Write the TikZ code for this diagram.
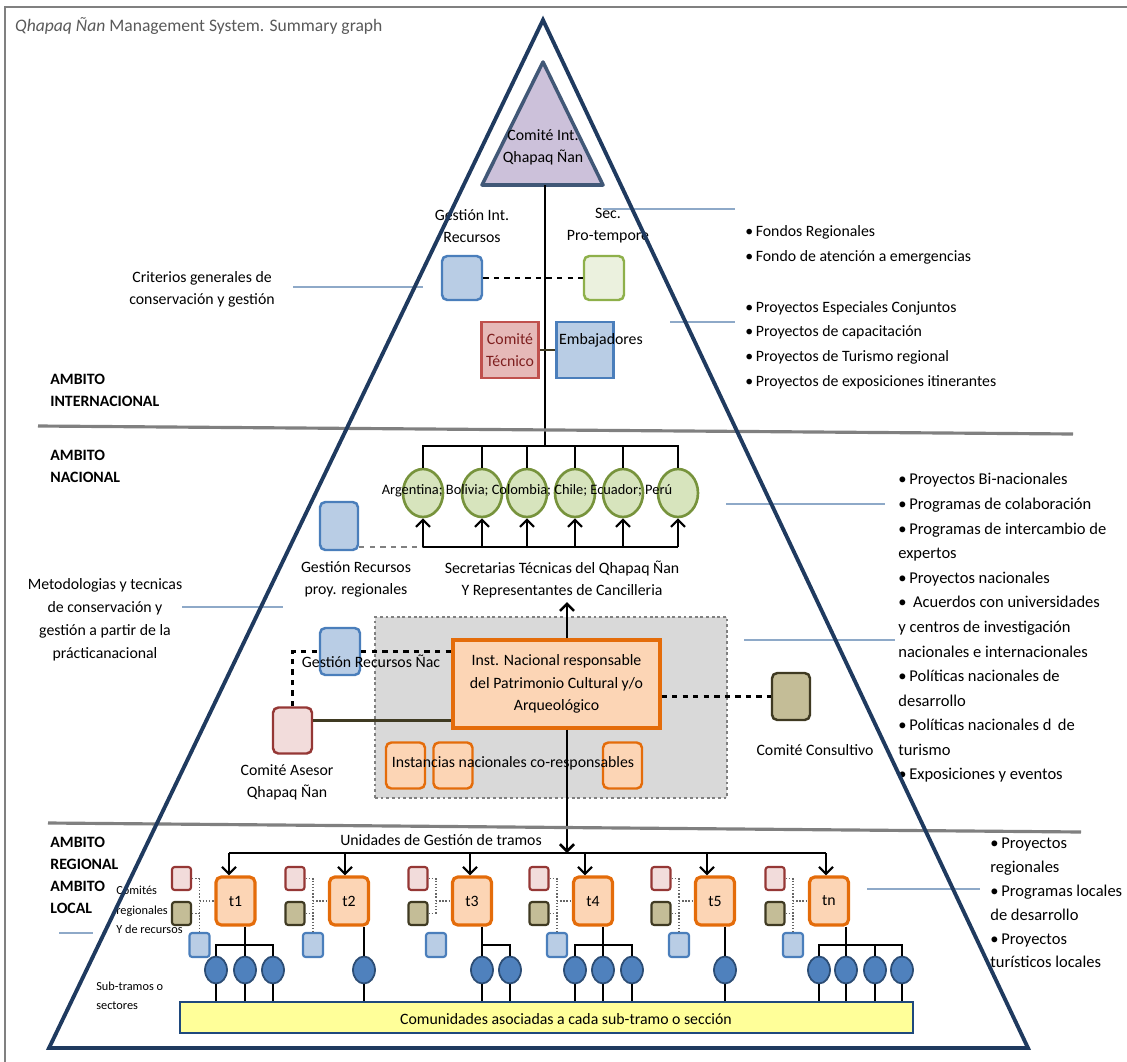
\documentclass[tikz,border=0pt]{standalone}
\usepackage{fontspec}
\setmainfont{Carlito}
\usetikzlibrary{arrows.meta,shapes.geometric}
\definecolor{marino}{HTML}{1F3A5F}
\definecolor{lila}{HTML}{CCC1DA}
\definecolor{azulf}{HTML}{B9CDE5}
\definecolor{azulb}{HTML}{4A7EBB}
\definecolor{verdef}{HTML}{EBF1DE}
\definecolor{verdeb}{HTML}{8EB04A}
\definecolor{circf}{HTML}{D7E4BD}
\definecolor{circb}{HTML}{77933C}
\definecolor{rosaf}{HTML}{E6B9B8}
\definecolor{rosab}{HTML}{C0504D}
\definecolor{rojot}{HTML}{7F1F1F}
\definecolor{asesf}{HTML}{F2DCDB}
\definecolor{asesb}{HTML}{953735}
\definecolor{olivf}{HTML}{C4BD97}
\definecolor{olivb}{HTML}{3F3A22}
\definecolor{naranf}{HTML}{FCD5B5}
\definecolor{naranb}{HTML}{E46C0A}
\definecolor{grisf}{HTML}{D9D9D9}
\definecolor{grisl}{HTML}{808080}
\definecolor{azull}{HTML}{8EA9C8}
\definecolor{subf}{HTML}{4F81BD}
\definecolor{subb}{HTML}{2C4D75}
\definecolor{amarf}{HTML}{FFFF99}
\definecolor{amarb}{HTML}{1F497D}
\definecolor{titulo}{HTML}{595959}
\begin{document}
\begin{tikzpicture}[x=0.02cm, y=-0.02cm,
  texto/.style={font=\fontsize{9}{12.5}\selectfont, align=center, text=black, inner sep=1pt},
  lista/.style={font=\fontsize{9}{14}\selectfont, align=left, anchor=west, text=black, inner sep=0pt},
  ambito/.style={font=\fontsize{9}{12.5}\selectfont\bfseries, align=left, anchor=west, text=black, inner sep=0pt},
  chico/.style={font=\fontsize{7}{11}\selectfont, align=left, anchor=west, text=black, inner sep=0pt},
  caja/.style={rounded corners=3pt, line width=1.4pt, minimum width=0.78cm, minimum height=0.92cm, inner sep=0pt},
  cajaazul/.style={caja, draw=azulb, fill=azulf},
  cajaverde/.style={caja, draw=verdeb, fill=verdef},
  cajaases/.style={caja, draw=asesb, fill=asesf},
  cajacons/.style={caja, draw=olivb, fill=olivf},
  cajanar/.style={caja, draw=naranb, fill=naranf},
  cajat/.style={cajanar, line width=1.8pt, minimum height=0.96cm, font=\fontsize{9}{11}\selectfont},
  cajarect/.style={sharp corners, line width=1.5pt, minimum width=1.14cm, minimum height=1.12cm, inner sep=0pt, align=center, font=\fontsize{9}{12.5}\selectfont},
  mini/.style={rounded corners=1.5pt, line width=1.2pt, minimum width=0.38cm, minimum height=0.46cm, inner sep=0pt},
  minirosa/.style={mini, draw=asesb, fill=asesf},
  minioliva/.style={mini, draw=olivb, fill=olivf},
  miniazul/.style={mini, draw=azulb, fill=azulf, minimum width=0.4cm, minimum height=0.48cm},
  pais/.style={ellipse, draw=circb, fill=circf, line width=1.5pt, minimum width=0.8cm, minimum height=0.96cm, inner sep=0pt},
  sub/.style={ellipse, draw=subb, fill=subf, line width=1pt, minimum width=0.44cm, minimum height=0.54cm, inner sep=0pt},
  llamada/.style={draw=azull, line width=1pt},
  division/.style={draw=grisl, line width=1.8pt},
  conector/.style={line width=1.2pt},
  flecha/.style={conector, -{Straight Barb[length=4pt,width=8pt]}},
  punteo/.style={densely dotted, line width=0.8pt, black!60},
  guion/.style={dashed, line width=1.2pt}]
\useasboundingbox (0,0) rectangle (1127,1062);
\draw[grisl, line width=0.8pt] (5,1062) -- (5,7) -- (1127,7);
\node[anchor=west, text=titulo, font=\fontsize{10}{12}\selectfont] (titulo) at (9,26) {\textit{Qhapaq Ñan} Management System. Summary graph};

\filldraw[fill=lila, draw=marino!85, line width=2pt, line join=round] (543,62) -- (603,185) -- (482,185) -- cycle;
\node[texto] (cint) at (543,147) {Comité Int.\\Qhapaq Ñan};
\coordinate (cintb) at (545,185);
\coordinate (barN) at (545,446);
\draw[conector] (cintb) -- (barN);

\node[texto] (girt) at (472,226) {Gestión Int.\\Recursos};
\node[texto] (sptt) at (608,226) {Sec.\\Pro-tempore};
\node[cajaazul, minimum width=0.8cm, minimum height=0.88cm] (gir) at (462,278) {};
\node[cajaverde, minimum width=0.8cm, minimum height=0.88cm] (spt) at (604,278) {};
\draw[guion] (gir) -- (spt);
\node[cajarect, draw=rosab, fill=rosaf, text=rojot] (ct) at (510,350) {Comité\\Técnico};
\node[cajarect, draw=azulb, fill=azulf] (emb) at (585,350) {};
\node[texto] (embt) at (601,340) {Embajadores};
\draw[line width=1pt, olivb] (ct) -- (emb);

\node[texto] (crit) at (202,289) {Criterios generales de\\conservación y gestión};
\coordinate (lC1) at (293,287);
\coordinate (lC2) at (423,287);
\draw[llamada] (lC1) -- (lC2);
\node[lista] (fondos) at (745,245) {•\,Fondos Regionales\\•\,Fondo de atención a emergencias};
\node[lista] (proy) at (745,345) {•\,Proyectos Especiales Conjuntos\\•\,Proyectos de capacitación\\•\,Proyectos de Turismo regional\\•\,Proyectos de exposiciones itinerantes};
\coordinate (lA1) at (603,209);
\coordinate (lA2) at (735,209);
\draw[llamada] (lA1) -- (lA2);
\coordinate (lB1) at (670,322);
\coordinate (lB2) at (735,322);
\draw[llamada] (lB1) -- (lB2);

\node[ambito] (amint) at (50,390) {AMBITO\\INTERNACIONAL};
\draw[division] (38,426) -- (1073,434);
\node[ambito] (amnac) at (50,466) {AMBITO\\NACIONAL};

\node[pais] (arg) at (423,493) {};
\node[pais] (bol) at (482,493) {};
\node[pais] (col) at (527,493) {};
\node[pais] (chi) at (575,493) {};
\node[pais] (ecu) at (623,493) {};
\node[pais] (per) at (678,493) {};
\node[texto, font=\fontsize{8.2}{10}\selectfont] (paises) at (527,491) {Argentina; Bolivia; Colombia; Chile; Ecuador; Perú};
\draw[conector] (arg.north) |- (barN) -| (per.north);
\draw[conector] (bol.north) -- (bol.north |- barN);
\draw[conector] (col.north) -- (col.north |- barN);
\draw[conector] (chi.north) -- (chi.north |- barN);
\draw[conector] (ecu.north) -- (ecu.north |- barN);
\coordinate (barS) at (545,547);
\node[cajaazul, minimum width=0.76cm, minimum height=0.96cm] (grp) at (339,526) {};
\draw[grisl, dashed, line width=1.5pt] (grp.east |- barS) -- (arg |- barS);
\draw[conector] (arg |- barS) -- (per |- barS);
\draw[flecha] (arg |- barS) -- (arg.south);
\draw[flecha] (bol |- barS) -- (bol.south);
\draw[flecha] (col |- barS) -- (col.south);
\draw[flecha] (chi |- barS) -- (chi.south);
\draw[flecha] (ecu |- barS) -- (ecu.south);
\draw[flecha] (per |- barS) -- (per.south);
\node[texto] (grpt) at (356,579) {Gestión Recursos\\proy. regionales};
\node[texto] (sect) at (562,579) {Secretarias Técnicas del Qhapaq Ñan\\Y Representantes de Cancilleria};

\node[texto, font=\fontsize{9}{13}\selectfont] (metod) at (105,620) {Metodologias y tecnicas\\de conservación y\\gestión a partir de la\\prácticanacional};
\coordinate (lM1) at (182,607);
\coordinate (lM2) at (283,607);
\draw[llamada] (lM1) -- (lM2);

\node[fill=grisf, draw=grisl, line width=1.6pt, dash pattern=on 1.6pt off 1.6pt, minimum width=7.04cm, minimum height=3.62cm] (reg) at (551,707.5) {};
\node[sharp corners, draw=naranb, fill=naranf, line width=1.8pt, minimum width=4.14cm, minimum height=1.76cm, texto, font=\fontsize{9}{12.8}\selectfont] (inst) at (556.5,684) {Inst. Nacional responsable\\del Patrimonio Cultural y/o\\Arqueológico};
\node[cajanar] (ins1) at (405.5,765.5) {};
\node[cajanar] (ins2) at (453,765.5) {};
\node[cajanar] (ins3) at (622.5,765.5) {};
\node[texto] (inst2t) at (513,763) {Instancias nacionales co-responsables};
\coordinate (ejeN) at (567,602);
\coordinate (ejeL) at (567,853);
\draw[flecha, line width=1.5pt] (inst.north -| ejeN) -- (ejeN);
\draw[flecha, line width=1.5pt] (inst.south -| ejeL) -- (ejeL);

\node[cajaazul, minimum width=0.8cm, minimum height=0.94cm] (grn) at (340,651.5) {};
\node[cajaases] (cas) at (292.5,730.5) {};
\draw[guion] (cas.north) |- (grn.west);
\draw[guion] (grn.east) -- (grn.east -| inst.west);
\draw[olivb, line width=1.2pt] ([yshift=0.2cm]cas.east) -- ([yshift=0.2cm]cas.east -| inst.west);
\node[texto] (grnt) at (371,661) {Gestión Recursos Ñac};
\node[texto] (cast) at (287,782) {Comité Asesor\\Qhapaq Ñan};
\node[cajacons, minimum width=0.76cm, minimum height=0.94cm] (ccon) at (791,696.5) {};
\draw[guion] (inst.east |- ccon) -- (ccon.west);
\node[texto] (ccont) at (815,750) {Comité Consultivo};

\node[lista, font=\fontsize{9.4}{14}\selectfont] (nac) at (898,628) {•\,Proyectos Bi-nacionales\\•\,Programas de colaboración\\•\,Programas de intercambio de\\expertos\\•\,Proyectos nacionales\\•\, Acuerdos con universidades\\y centros de investigación\\nacionales e internacionales\\•\,Políticas nacionales de\\desarrollo\\•\,Políticas nacionales d\, de\\turismo\\•\,Exposiciones y eventos};
\coordinate (lN1) at (726,504);
\coordinate (lN2) at (885,504);
\draw[llamada] (lN1) -- (lN2);
\coordinate (lP1) at (744,640);
\coordinate (lP2) at (895,640);
\draw[llamada] (lP1) -- (lP2);

\draw[division] (48,823) -- (1081,832);
\node[ambito] (amreg) at (50,875) {AMBITO\\REGIONAL\\AMBITO\\LOCAL};
\coordinate (lL1) at (59,933);
\coordinate (lL2) at (93,933);
\draw[llamada] (lL1) -- (lL2);
\node[chico] (comreg) at (116,910) {Comités\\regionales\\Y de recursos};
\node[chico] (subtr) at (96,996) {Sub-tramos o\\sectores};
\node[texto] (unit) at (441,840) {Unidades de Gestión de tramos};

\node[cajat] (t1) at (235.5,901) {t1};
\node[cajat] (t2) at (349,901) {t2};
\node[cajat] (t3) at (472,901) {t3};
\node[cajat] (t4) at (593,901) {t4};
\node[cajat] (t5) at (715,901) {t5};
\node[cajat] (tn) at (829,901) {tn};
\coordinate (a1) at (229,853);
\coordinate (a2) at (345,853);
\coordinate (a3) at (470,853);
\coordinate (a4) at (585,853);
\coordinate (a5) at (707,853);
\coordinate (an) at (826,853);
\draw[conector] (a1) -- (an);
\draw[flecha] (a1) -- (a1 |- t1.north);
\draw[flecha] (a2) -- (a2 |- t2.north);
\draw[flecha] (a3) -- (a3 |- t3.north);
\draw[flecha] (a4) -- (a4 |- t4.north);
\draw[flecha] (a5) -- (a5 |- t5.north);
\draw[flecha] (an) -- (an |- tn.north);

\node[minirosa] (p1) at (181.5,878.5) {};
\node[minioliva] (o1) at (181.5,913.5) {};
\node[miniazul] (b1) at (199.5,945) {};
\node[minirosa] (p2) at (295,878.5) {};
\node[minioliva] (o2) at (295,913.5) {};
\node[miniazul] (b2) at (313,945) {};
\node[minirosa] (p3) at (418,878.5) {};
\node[minioliva] (o3) at (418,913.5) {};
\node[miniazul] (b3) at (436,945) {};
\node[minirosa] (p4) at (539,878.5) {};
\node[minioliva] (o4) at (539,913.5) {};
\node[miniazul] (b4) at (557,945) {};
\node[minirosa] (p5) at (661,878.5) {};
\node[minioliva] (o5) at (661,913.5) {};
\node[miniazul] (b5) at (679,945) {};
\node[minirosa] (pn) at (775,878.5) {};
\node[minioliva] (on) at (775,913.5) {};
\node[miniazul] (bn) at (793,945) {};
\draw[punteo] (p1.east) -| (b1.north);
\draw[punteo] (o1.east) -- (o1.east -| b1);
\draw[punteo] (b1 |- t1.west) -- (t1.west);
\draw[punteo] (p2.east) -| (b2.north);
\draw[punteo] (o2.east) -- (o2.east -| b2);
\draw[punteo] (b2 |- t2.west) -- (t2.west);
\draw[punteo] (p3.east) -| (b3 |- o3.east);
\draw[punteo] (o3.east) -- (b3 |- o3.east);
\draw[punteo] (b3 |- t3.west) -- (t3.west);
\draw[punteo] (p4.east) -| (b4.north);
\draw[punteo] (o4.east) -- (o4.east -| b4);
\draw[punteo] (b4 |- t4.west) -- (t4.west);
\draw[punteo] (p5.east) -| (b5.north);
\draw[punteo] (o5.east) -- (o5.east -| b5);
\draw[punteo] (b5 |- t5.west) -- (t5.west);
\draw[punteo] (pn.east) -| (bn.north);
\draw[punteo] (on.east) -- (on.east -| bn);
\draw[punteo] (bn |- tn.west) -- (tn.west);

\node[fill=amarf, draw=amarb, line width=1.5pt, minimum width=14.66cm, minimum height=0.62cm, inner sep=0pt] (com) at (546.5,1017.5) {};
\node[texto] (comt) at (566,1019) {Comunidades asociadas a cada sub-tramo o sección};
\node[sub] (c11) at (216,970) {};
\node[sub] (c12) at (245,970) {};
\node[sub] (c13) at (273,970) {};
\node[sub] (c21) at (364,970) {};
\node[sub] (c31) at (482,970) {};
\node[sub] (c32) at (510,970) {};
\node[sub] (c41) at (575,970) {};
\node[sub] (c42) at (603,970) {};
\node[sub] (c43) at (632,970) {};
\node[sub] (c51) at (725,970) {};
\node[sub] (cn1) at (819,970) {};
\node[sub] (cn2) at (846,970) {};
\node[sub] (cn3) at (875,970) {};
\node[sub] (cn4) at (902,970) {};
\coordinate (r1) at (245,945);
\coordinate (r3) at (482,945);
\coordinate (r4) at (603,945);
\coordinate (rn) at (846,945);
\draw[conector] (c12.north |- t1.south) -- (c12.north);
\draw[conector] (c11.north) |- (r1) -| (c13.north);
\draw[conector] (c21.north |- t2.south) -- (c21.north);
\draw[conector] (c31.north |- t3.south) -- (c31.north);
\draw[conector] (r3) -| (c32.north);
\draw[conector] (c42.north |- t4.south) -- (c42.north);
\draw[conector] (c41.north) |- (r4) -| (c43.north);
\draw[conector] (c51.north |- t5.south) -- (c51.north);
\draw[conector] (cn2.north |- tn.south) -- (cn2.north);
\draw[conector] (cn1.north) |- (rn) -| (cn4.north);
\draw[conector] (cn3.north) -- (cn3.north |- rn);
\draw[conector] (c11.south) -- (c11.south |- com.north);
\draw[conector] (c12.south) -- (c12.south |- com.north);
\draw[conector] (c13.south) -- (c13.south |- com.north);
\draw[conector] (c21.south) -- (c21.south |- com.north);
\draw[conector] (c31.south) -- (c31.south |- com.north);
\draw[conector] (c32.south) -- (c32.south |- com.north);
\draw[conector] (c41.south) -- (c41.south |- com.north);
\draw[conector] (c42.south) -- (c42.south |- com.north);
\draw[conector] (c43.south) -- (c43.south |- com.north);
\draw[conector] (c51.south) -- (c51.south |- com.north);
\draw[conector] (cn1.south) -- (cn1.south |- com.north);
\draw[conector] (cn2.south) -- (cn2.south |- com.north);
\draw[conector] (cn3.south) -- (cn3.south |- com.north);
\draw[conector] (cn4.south) -- (cn4.south |- com.north);

\node[lista, font=\fontsize{9.4}{13.6}\selectfont] (loc) at (990,903) {•\,Proyectos\\regionales\\•\,Programas locales\\de desarrollo\\•\,Proyectos\\turísticos locales};
\coordinate (lE1) at (867,889);
\coordinate (lE2) at (980,889);
\draw[llamada] (lE1) -- (lE2);

\draw[marino, line width=2.2pt, line join=miter] (543,20) -- (1028,1048) -- (49,1048) -- cycle;
\end{tikzpicture}
\end{document}
